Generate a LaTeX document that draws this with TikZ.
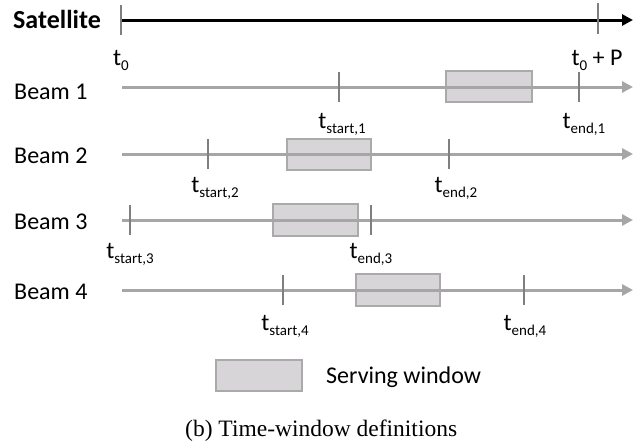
\documentclass[tikz,border=0pt]{standalone}
\usepackage{fontspec}
\setmainfont{Carlito}
\newfontfamily\capfont{Liberation Serif}
\usetikzlibrary{arrows.meta}
\definecolor{linegray}{RGB}{166,166,166}
\definecolor{tickgray}{RGB}{127,127,127}
\definecolor{boxfill}{RGB}{215,213,215}
\definecolor{boxgray}{RGB}{170,170,170}
\newcommand{\tsb}[1]{t\raisebox{-5pt}{\fontsize{15}{17}\selectfont #1}}
\begin{document}
\begin{tikzpicture}[x=1pt,y=-1pt,
  tline/.style={line width=3pt, draw=linegray, -{Triangle[length=11pt,width=11pt]}},
  sline/.style={line width=3pt, draw=black, -{Triangle[length=11pt,width=11pt]}},
  tk/.style={line width=2.5pt, draw=tickgray},
  win/.style={draw=boxgray, fill=boxfill, line width=1.5pt},
  lab/.style={font=\fontsize{24}{28}\selectfont, inner sep=0pt, anchor=base west},
  tlab/.style={font=\fontsize{24}{28}\selectfont, inner sep=0pt, anchor=base},
]
\useasboundingbox (0,0) rectangle (642,447);

% Satellite
\node[lab, font=\fontsize{26}{30}\selectfont\bfseries] (sat) at (13,28) {Satellite};
\coordinate (ss) at (122,20); \coordinate (se) at (633,20);
\draw[sline] (ss) -- (se);
\coordinate (k0a) at (121,5); \coordinate (k0b) at (121,35);
\draw[tk] (k0a) -- (k0b);
\coordinate (kPa) at (598,3); \coordinate (kPb) at (598,34);
\draw[tk] (kPa) -- (kPb);
\node[tlab] (t0) at (121,65) {\tsb{0}};
\node[tlab] (t0P) at (597,65) {\tsb{0} + P};

% Beam 1
\node[lab] (b1) at (14,99) {Beam 1};
\node[win, minimum width=86pt, minimum height=31pt, inner sep=0pt] (w1) at (489,86.5) {};
\coordinate (b1s) at (122,87); \coordinate (b1e) at (633,87);
\draw[tline] (b1s) -- (b1e);
\draw[tk] (339,72) coordinate (k1a) -- (339,102) coordinate (k1b);
\draw[tk] (579,72) coordinate (k1c) -- (579,102) coordinate (k1d);
\node[tlab] (ts1) at (342,128) {\tsb{start,1}};
\node[tlab] (te1) at (584,128) {\tsb{end,1}};

% Beam 2
\node[lab] (b2) at (14,163) {Beam 2};
\node[win, minimum width=84pt, minimum height=31pt, inner sep=0pt] (w2) at (329,154.5) {};
\coordinate (b2s) at (122,154); \coordinate (b2e) at (633,154);
\draw[tline] (b2s) -- (b2e);
\draw[tk] (208,139) coordinate (k2a) -- (208,169) coordinate (k2b);
\draw[tk] (449,139) coordinate (k2c) -- (449,169) coordinate (k2d);
\node[tlab] (ts2) at (215,192) {\tsb{start,2}};
\node[tlab] (te2) at (456,192) {\tsb{end,2}};

% Beam 3
\node[lab] (b3) at (14,229) {Beam 3};
\node[win, minimum width=85pt, minimum height=32pt, inner sep=0pt] (w3) at (315.5,220) {};
\coordinate (b3s) at (122,220); \coordinate (b3e) at (633,220);
\draw[tline] (b3s) -- (b3e);
\draw[tk] (130,205) coordinate (k3a) -- (130,235) coordinate (k3b);
\draw[tk] (371,205) coordinate (k3c) -- (371,235) coordinate (k3d);
\node[tlab] (ts3) at (130,258) {\tsb{start,3}};
\node[tlab] (te3) at (371,258) {\tsb{end,3}};

% Beam 4
\node[lab] (b4) at (14,299) {Beam 4};
\node[win, minimum width=84pt, minimum height=32pt, inner sep=0pt] (w4) at (398,290) {};
\coordinate (b4s) at (122,290); \coordinate (b4e) at (633,290);
\draw[tline] (b4s) -- (b4e);
\draw[tk] (283,275) coordinate (k4a) -- (283,305) coordinate (k4b);
\draw[tk] (524,275) coordinate (k4c) -- (524,305) coordinate (k4d);
\node[tlab] (ts4) at (285,330) {\tsb{start,4}};
\node[tlab] (te4) at (525,330) {\tsb{end,4}};

% Legend
\node[win, minimum width=86pt, minimum height=31pt, inner sep=0pt] (lw) at (259,375.5) {};
\node[lab] (lt) at (326,383) {Serving window};

% Caption
\node[inner sep=0pt, anchor=base west, font=\capfont\fontsize{23.5}{27}\selectfont] (cap) at (185,436) {(b) Time-window definitions};
\end{tikzpicture}
\end{document}
